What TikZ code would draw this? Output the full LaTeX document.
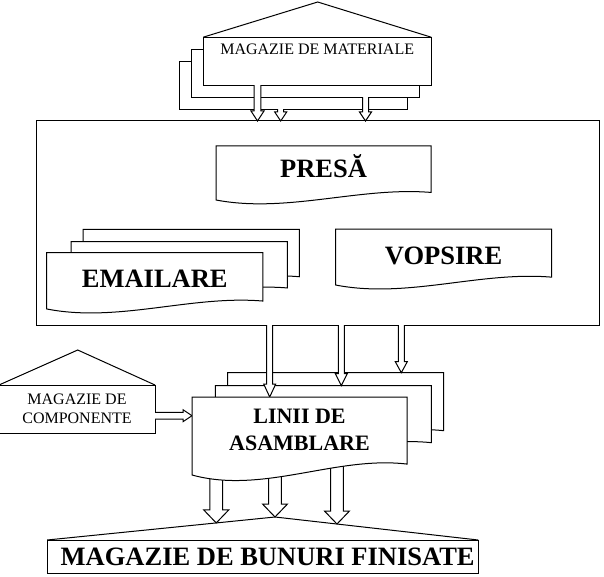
\documentclass[tikz,border=0pt]{standalone}
\usepackage{fontspec}
\setmainfont{Liberation Serif}
\usetikzlibrary{calc}

\tikzset{
  box/.style={draw, line width=1pt, fill=white, inner sep=0pt, outer sep=0pt},
  frame/.style={inner sep=0pt, outer sep=0pt},
  docline/.style={draw, line width=1pt, fill=white},
  arrowline/.style={draw, line width=1pt, fill=white},
  roofline/.style={draw, line width=1pt},
  smalltext/.style={font=\fontsize{16}{19.5}\selectfont, align=center, inner sep=0pt},
  bigtext/.style={font=\fontsize{26.5}{30}\selectfont\bfseries, inner sep=0pt, text height=17.5pt, text depth=0pt},
  liniitext/.style={font=\fontsize{22}{26.3}\selectfont\bfseries, align=center, inner sep=0pt}
}

% document outline round a frame node
\newcommand{\docshape}[1]{%
  \draw[docline] let \p1=(#1.north west), \p2=(#1.south east),
      \n1={\x2-\x1}, \n2={\y1-\y2} in
    (\x1,\y1) -- (\x2,\y1) -- (\x2,\y2+0.14*\n2)
    .. controls (\x1+0.67*\n1,\y2+0.25*\n2) and (\x1+0.33*\n1,\y2-0.25*\n2) .. (\x1,\y2) -- cycle;}

% hollow arrows: from, to, half shaft, half head, head length
\newcommand{\hollowdown}[5]{%
  \draw[arrowline] let \p1=(#1), \p2=(#2) in
    (\x1-#3,\y1) -- (\x1-#3,\y2+#5) -- (\x1-#4,\y2+#5) -- (\x1,\y2)
    -- (\x1+#4,\y2+#5) -- (\x1+#3,\y2+#5) -- (\x1+#3,\y1);}
\newcommand{\hollowright}[5]{%
  \draw[arrowline] let \p1=(#1), \p2=(#2) in
    (\x1,\y1+#3) -- (\x2-#5,\y1+#3) -- (\x2-#5,\y1+#4) -- (\x2,\y1)
    -- (\x2-#5,\y1-#4) -- (\x2-#5,\y1-#3) -- (\x1,\y1-#3);}

\begin{document}
\begin{tikzpicture}[x=1pt, y=-1pt]
\useasboundingbox (0,0) rectangle (604,577);

% Uzina
\node[box, minimum width=563, minimum height=204] (plant) at (317.5,223) {};

% Magazie de materiale
\foreach \k in {2,1}
  \node[box, minimum width=228, minimum height=48] (mat\k) at (317.2-12*\k,61.2+12*\k) {};
\node[box, minimum width=228, minimum height=48] (mat) at (317.2,61.2) {};
\coordinate (matroof) at (317.7,2);
\draw[roofline] (mat.north west) -- (matroof) -- (mat.north east);
\node[smalltext] at ([yshift=12pt]mat.center) {MAGAZIE DE MATERIALE};

% Intrari
\hollowdown{257.5,0 |- mat.south}{257.5,0 |- plant.north}{3.3pt}{6.5pt}{10pt}
\hollowdown{280.7,0 |- mat2.south}{280.7,0 |- plant.north}{3pt}{6pt}{9pt}
\hollowdown{365.5,0 |- mat1.south}{365.5,0 |- plant.north}{3pt}{6pt}{9pt}

% Presa, vopsire
\node[frame, minimum width=215, minimum height=54] (presa) at (323.5,173) {};
\docshape{presa}
\node[bigtext] at ([yshift=4pt]presa.center) {PRESĂ};
\node[frame, minimum width=216, minimum height=56] (vopsire) at (443.6,257) {};
\docshape{vopsire}
\node[bigtext] at ([yshift=1pt]vopsire.center) {VOPSIRE};

% Emailare
\foreach \nm/\cx/\cy/\h in {email2/191.3/256.9/55.1, email1/179.3/268.6/53.8, email/154.8/280.8/56.3} {
  \node[frame, minimum width=216.3, minimum height=\h] (\nm) at (\cx,\cy) {};
  \docshape{\nm}
}
\node[bigtext] at ([yshift=2pt]email.center) {EMAILARE};

% Magazie de componente
\node[box, smalltext, minimum width=156, minimum height=48] (componente) at (77,409) {MAGAZIE DE\\COMPONENTE};
\coordinate (comproof) at (77.7,350);
\draw[roofline] (componente.north west) -- (comproof) -- (componente.north east);

% Magazie de bunuri finisate
\node[box, minimum width=431, minimum height=33] (bunuri) at (262.7,556.5) {};
\coordinate (bunroof) at (275,517);
\draw[roofline] (bunuri.north west) -- (bunroof) -- (bunuri.north east);
\node[bigtext] at ([xshift=5pt]bunuri.center) {MAGAZIE DE BUNURI FINISATE};

% Linii de asamblare
\foreach \nm/\cx/\cy/\h in {linii2/335.5/406.4/67.4, linii1/323.3/418.8/66.3} {
  \node[frame, minimum width=216, minimum height=\h] (\nm) at (\cx,\cy) {};
  \docshape{\nm}
}
\node[frame, minimum width=215, minimum height=78] (linii) at (299.5,436) {};

\hollowdown{269.7,0 |- plant.south}{269.7,0 |- linii.north}{3pt}{6pt}{13pt}
\hollowdown{341.3,0 |- plant.south}{341.3,0 |- linii1.north}{3pt}{6pt}{12pt}
\hollowdown{401.3,0 |- plant.south}{401.3,0 |- linii2.north}{3pt}{6pt}{11pt}
\hollowright{componente.east |- 0,415.7}{linii.west |- 0,415.7}{3.3pt}{6pt}{9pt}

\coordinate (d1) at ($(bunuri.north west)!0.742!(bunroof)$);
\coordinate (d3) at ($(bunroof)!0.305!(bunuri.north east)$);
\hollowdown{d1 |- linii.center}{d1}{6.3pt}{12.5pt}{13pt}
\hollowdown{bunroof |- linii.center}{bunroof}{6.3pt}{12.5pt}{13pt}
\hollowdown{d3 |- linii.center}{d3}{6.3pt}{12.5pt}{13pt}

\docshape{linii}
\node[liniitext] at ([yshift=6pt]linii.center) {LINII DE\\ASAMBLARE};
\end{tikzpicture}
\end{document}
